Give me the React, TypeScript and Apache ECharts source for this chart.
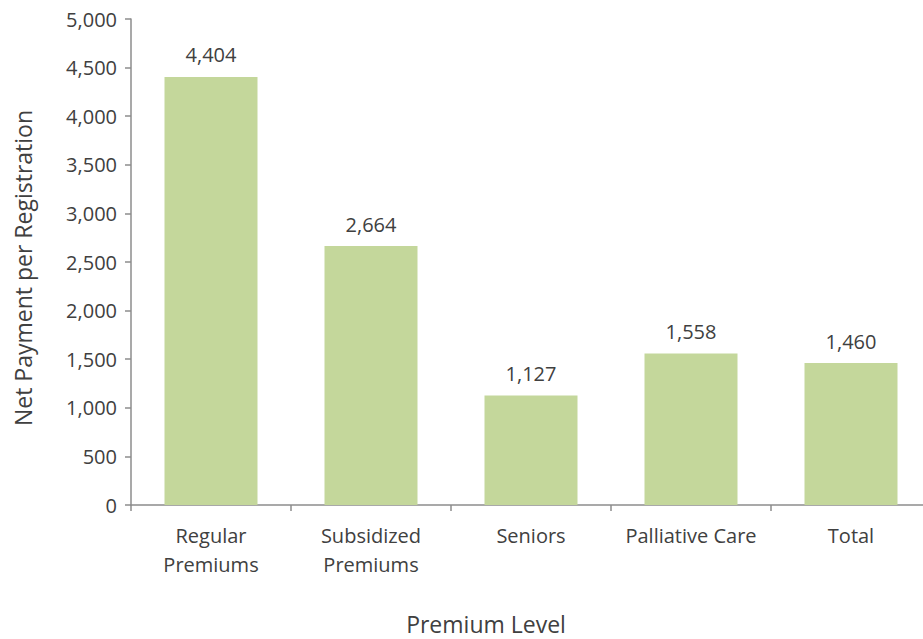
import React, { useEffect, useRef } from "react";
import * as echarts from "echarts";

const categories = ["Regular\nPremiums", "Subsidized\nPremiums", "Seniors", "Palliative Care", "Total"];
const values = [4404, 2664, 1127, 1558, 1460];
const yTicks = { min: 0, max: 5000, interval: 500 };
const xTitle = "Premium Level";
const yTitle = "Net Payment per Registration";

const FONT = "Open Sans";
const FS = 20;
const TFS = 23;
const TEXT = "#404040";
const AXIS = "#8c8c8c";

export default function App() {
  const ref = useRef<HTMLDivElement>(null);
  useEffect(() => {
    if (!ref.current) return;
    const chart = echarts.init(ref.current, null, { renderer: "svg" });
    chart.setOption({
      animation: false,
      grid: { left: 131, right: 0, top: 19, bottom: 134, containLabel: false },
      xAxis: {
        type: "category",
        data: categories,
        axisLine: { lineStyle: { color: AXIS, width: 1.5 } },
        axisTick: { show: true, length: 6, lineStyle: { color: AXIS, width: 1.5 } },
        axisLabel: { color: TEXT, fontFamily: FONT, fontSize: FS, margin: 16, lineHeight: 29, interval: 0 },
      },
      yAxis: {
        type: "value",
        min: yTicks.min,
        max: yTicks.max,
        interval: yTicks.interval,
        splitLine: { show: false },
        axisLine: { show: true, lineStyle: { color: AXIS, width: 1.5 } },
        axisTick: { show: true, length: 6, lineStyle: { color: AXIS, width: 1.5 } },
        axisLabel: {
          color: TEXT,
          fontFamily: FONT,
          fontSize: FS,
          margin: 14,
          formatter: (v: number) => v.toLocaleString("en-US"),
        },
      },
      series: [
        {
          type: "bar",
          data: values,
          barWidth: 93,
          itemStyle: { color: "#c4d79b" },
          label: {
            show: true,
            position: "top",
            distance: 12,
            color: TEXT,
            fontFamily: FONT,
            fontSize: FS,
            formatter: (p: any) => Number(p.value).toLocaleString("en-US"),
          },
        },
      ],
      graphic: [
        {
          type: "text",
          x: 486,
          y: 624,
          style: { text: xTitle, fill: TEXT, font: `${TFS}px ${FONT}`, align: "center", verticalAlign: "middle" },
        },
        {
          type: "text",
          x: 23,
          y: 268,
          rotation: Math.PI / 2,
          style: {
            text: yTitle,
            fill: TEXT,
            font: `${TFS}px ${FONT}`,
            align: "center",
            verticalAlign: "middle",
          },
        },
      ],
    });
    return () => chart.dispose();
  }, []);
  return (
    <div
      ref={ref}
      style={{ position: "fixed", left: 0, top: 0, width: 931, height: 639, background: "#fff" }}
    />
  );
}
